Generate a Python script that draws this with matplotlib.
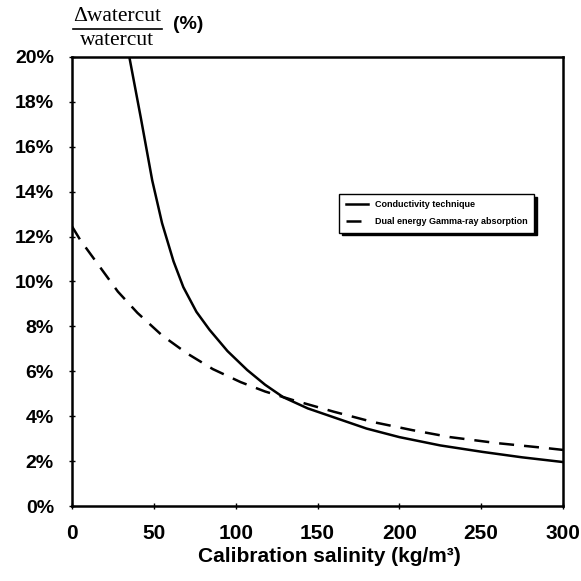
import matplotlib
matplotlib.use('Agg')
import matplotlib.pyplot as plt
from matplotlib.lines import Line2D

# values
salinity_cond = [35, 42, 49, 55, 62, 68, 76, 84, 95, 107, 118, 129, 144, 160, 180, 200, 225, 251, 275, 300]
error_cond = [20.0, 17.3, 14.5, 12.6, 10.9, 9.75, 8.65, 7.85, 6.9, 6.06, 5.4, 4.85, 4.35, 3.95, 3.45, 3.07, 2.7, 2.41, 2.17, 1.96]

salinity_gamma = [0, 5, 17, 28, 40, 55, 70, 86, 103, 118, 135, 160, 184, 208, 231, 260, 290, 300]
error_gamma = [12.45, 11.85, 10.65, 9.55, 8.6, 7.6, 6.81, 6.1, 5.52, 5.1, 4.72, 4.2, 3.74, 3.38, 3.07, 2.8, 2.58, 2.5]

series_labels = ['Conductivity technique', 'Dual energy Gamma-ray absorption']
x_ticks = [0, 50, 100, 150, 200, 250, 300]
y_ticks = [0, 2, 4, 6, 8, 10, 12, 14, 16, 18, 20]

plt.rcParams['font.family'] = ['Liberation Sans', 'DejaVu Sans']

fig = plt.figure(figsize=(5.81, 5.81), dpi=100)
ax = fig.add_axes([0.124, 0.129, 0.845, 0.773])

ax.plot(salinity_cond, error_cond, color='black', lw=1.8, label=series_labels[0])
ax.plot(salinity_gamma, error_gamma, color='black', lw=1.8, dashes=(6, 4), label=series_labels[1])

ax.set_xlim(0, 300)
ax.set_ylim(0, 20)
ax.set_xticks(x_ticks)
ax.set_yticks(y_ticks)
ax.set_yticklabels(['%d%%' % v for v in y_ticks])
ax.tick_params(direction='inout', length=4, width=1)
ax.tick_params(axis='x', pad=11, labelsize=15)
ax.tick_params(axis='y', pad=11, labelsize=14)
for lab in ax.get_xticklabels() + ax.get_yticklabels():
    lab.set_fontweight('bold')
for sp in ax.spines.values():
    sp.set_linewidth(1.8)

ax.set_xlabel('Calibration salinity (kg/m³)', fontsize=15, fontweight='bold')
ax.xaxis.set_label_coords(0.525, -0.092)

# y label drawn as a fraction above the axis
fig.text(0.201, 0.971, 'Δwatercut', family='Liberation Serif', fontsize=15.5, ha='center', va='center')
fig.text(0.201, 0.930, 'watercut', family='Liberation Serif', fontsize=15.5, ha='center', va='center')
fig.add_artist(Line2D([0.126, 0.278], [0.950, 0.950], transform=fig.transFigure, color='black', lw=1.2))
fig.text(0.324, 0.957, '(%)', fontsize=14, fontweight='bold', ha='center', va='center')

leg = ax.legend(loc='upper left', bbox_to_anchor=(0.535, 0.705), fancybox=False,
                shadow={'color': 'black', 'alpha': 1}, edgecolor='black', framealpha=1,
                handlelength=2.5, borderpad=0.7, labelspacing=0.9,
                prop={'size': 6.5, 'weight': 'bold'})
leg.get_frame().set_linewidth(1.0)

fig.savefig('out.png', dpi=100)
